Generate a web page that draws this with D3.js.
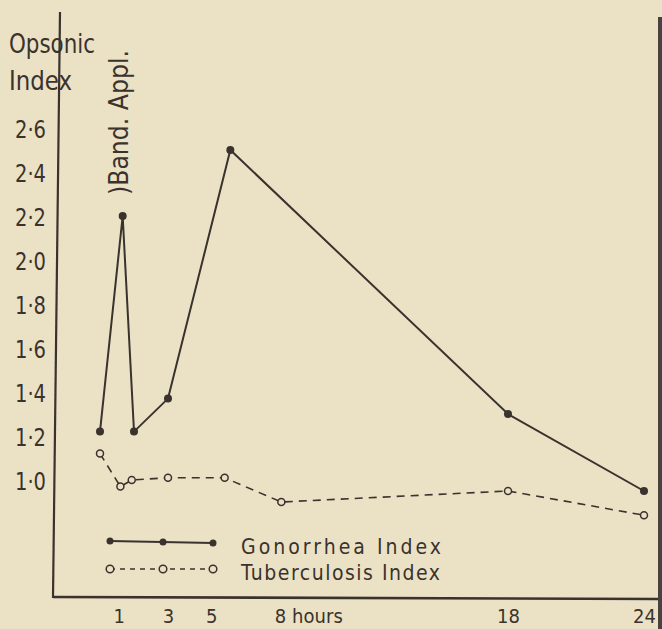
<!DOCTYPE html>
<html><head><meta charset="utf-8">
<script src="https://cdn.jsdelivr.net/npm/d3@7"></script>
<style>
html,body{margin:0;padding:0;background:#ebe2c6;}
svg{display:block;}
text{font-family:"DejaVu Sans Condensed","DejaVu Sans",sans-serif;fill:#3a322d;}
</style></head><body>
<svg id="c" width="662" height="629"></svg>
<script>
// Data
const gonHours = [0, 1, 1.5, 3, 5.75, 18, 24];
const gonValues = [1.22, 2.20, 1.22, 1.37, 2.50, 1.30, 0.95];
const tbHours = [0, 0.9, 1.4, 3, 5.5, 8, 18, 24];
const tbValues = [1.12, 0.97, 1.00, 1.01, 1.01, 0.90, 0.95, 0.84];
const yTicks = [1.0, 1.2, 1.4, 1.6, 1.8, 2.0, 2.2, 2.4, 2.6];
const xTicks = [1, 3, 5, 8, 18, 24];
const seriesNames = ["Gonorrhea Index", "Tuberculosis Index"];

const ink = "#3a322d";
const paper = "#ebe2c6";
const svg = d3.select("#c");
const x = d3.scaleLinear().domain([0, 24]).range([100, 644]);
const y = d3.scaleLinear().domain([1.0, 2.6]).range([480, 128]);

// page edge strip on right
svg.append("rect").attr("x", 658).attr("y", 17).attr("width", 4).attr("height", 612).attr("fill", "#4a4240");

// axes lines
svg.append("line").attr("x1", 60).attr("y1", 12).attr("x2", 53).attr("y2", 598)
  .attr("stroke", ink).attr("stroke-width", 2.2);
svg.append("line").attr("x1", 53).attr("y1", 597).attr("x2", 658).attr("y2", 599)
  .attr("stroke", ink).attr("stroke-width", 2.6);

// y tick labels
const fmt = d => d3.format(".1f")(d).replace(".", "·");
const yAxis = svg.append("g").attr("transform", "translate(46,0)")
  .call(d3.axisLeft(y).tickValues(yTicks).tickSize(0).tickFormat(fmt));
yAxis.select(".domain").remove();
yAxis.selectAll("text").attr("x", 0).attr("text-anchor", "end").attr("dy", "0.36em")
  .style("font-size", "25px").attr("fill", ink)
  .attr("textLength", 31).attr("lengthAdjust", "spacingAndGlyphs");

// x tick labels
const xAxis = svg.append("g").attr("transform", "translate(0,602)")
  .call(d3.axisBottom(x).tickValues(xTicks).tickSize(0).tickFormat(d => d === 8 ? "8 hours" : d));
xAxis.select(".domain").remove();
xAxis.selectAll("text").style("font-size", "20px").attr("fill", ink).attr("dy", "0.9em");
xAxis.selectAll(".tick").filter(d => d === 8).select("text").attr("text-anchor", "start").attr("dx", -7)
  .attr("textLength", 68).attr("lengthAdjust", "spacing");
xAxis.selectAll(".tick").filter(d => d === 1).select("text").attr("dx", -4);
xAxis.selectAll(".tick").filter(d => d === 5).select("text").attr("dx", -2);

// axis title
svg.append("text").attr("x", 9).attr("y", 53).text("Opsonic").style("font-size", "27px")
  .attr("textLength", 86).attr("lengthAdjust", "spacingAndGlyphs");
svg.append("text").attr("x", 9).attr("y", 90).text("Index").style("font-size", "27px")
  .attr("textLength", 63).attr("lengthAdjust", "spacingAndGlyphs");

// annotation
svg.append("text").attr("transform", "translate(128,195) rotate(-90)")
  .text(")Band. Appl.").style("font-size", "27px")
  .attr("textLength", 145).attr("lengthAdjust", "spacingAndGlyphs");

// lines
const gon = gonHours.map((h, i) => [h, gonValues[i]]);
const tb = tbHours.map((h, i) => [h, tbValues[i]]);
const line = d3.line().x(d => x(d[0])).y(d => y(d[1]));

svg.append("path").datum(tb).attr("d", line).attr("fill", "none")
  .attr("stroke", ink).attr("stroke-width", 1.6).attr("stroke-dasharray", "8,6");
svg.append("path").datum(gon).attr("d", line).attr("fill", "none")
  .attr("stroke", ink).attr("stroke-width", 2);

svg.selectAll(".tbdot").data(tb).join("circle")
  .attr("cx", d => x(d[0])).attr("cy", d => y(d[1])).attr("r", 3.5)
  .attr("fill", paper).attr("stroke", ink).attr("stroke-width", 1.5);
svg.selectAll(".gdot").data(gon).join("circle")
  .attr("cx", d => x(d[0])).attr("cy", d => y(d[1])).attr("r", 4)
  .attr("fill", ink);

// legend
const lg = svg.append("g");
const lx = [110, 163, 213];
lg.append("line").attr("x1", 110).attr("x2", 213).attr("y1", 541).attr("y2", 543)
  .attr("stroke", ink).attr("stroke-width", 2);
lx.forEach((px, i) => lg.append("circle").attr("cx", px).attr("cy", 541 + i).attr("r", 3.5).attr("fill", ink));
lg.append("line").attr("x1", 110).attr("x2", 213).attr("y1", 569).attr("y2", 569)
  .attr("stroke", ink).attr("stroke-width", 1.4).attr("stroke-dasharray", "5,5");
lx.forEach(px => lg.append("circle").attr("cx", px).attr("cy", 569).attr("r", 3.8)
  .attr("fill", paper).attr("stroke", ink).attr("stroke-width", 1.5));
lg.append("text").attr("x", 241).attr("y", 554).text(seriesNames[0]).style("font-size", "21px")
  .attr("textLength", 200).attr("lengthAdjust", "spacing");
lg.append("text").attr("x", 241).attr("y", 580).text(seriesNames[1]).style("font-size", "21px")
  .attr("textLength", 199).attr("lengthAdjust", "spacing");
</script>
</body></html>
